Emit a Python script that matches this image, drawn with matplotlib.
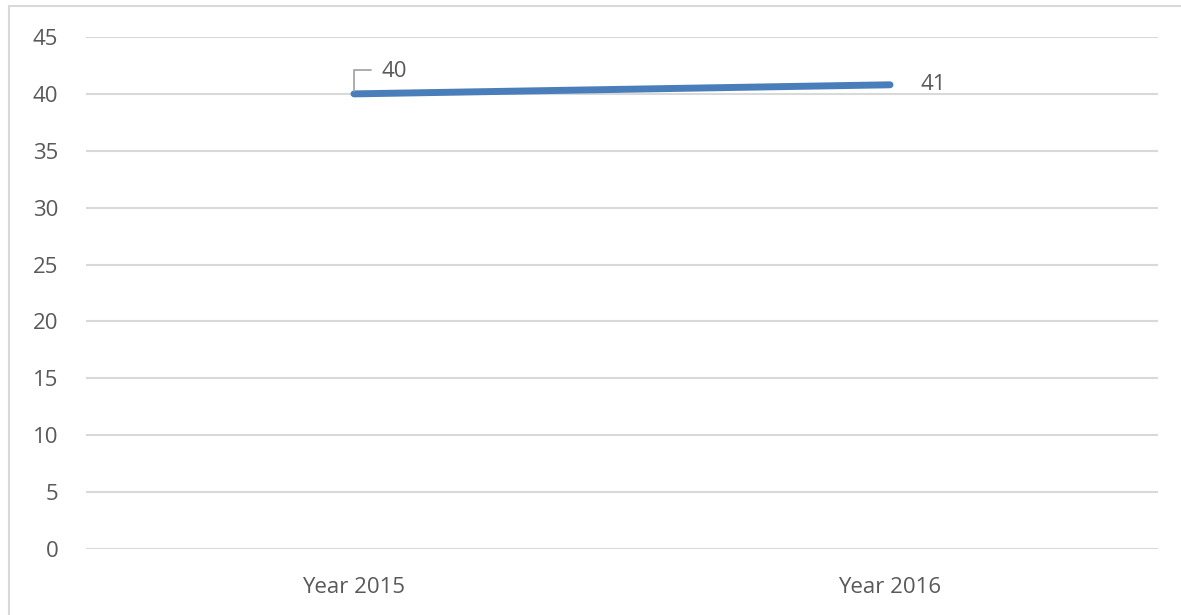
import matplotlib.pyplot as plt
from matplotlib.patches import Rectangle

# data
categories = ['Year 2015', 'Year 2016']
values = [40, 40.8]
yticks = [0, 5, 10, 15, 20, 25, 30, 35, 40, 45]

plt.rcParams['font.family'] = ['Open Sans', 'DejaVu Sans']
text_color = '#595959'
grid_color = '#D9D9D9'
line_color = '#4A7EBB'
fs = 16

fig = plt.figure(figsize=(11.81, 6.15), dpi=100)
ax = fig.add_axes([86 / 1181, 1 - 549 / 615, 1072 / 1181, 512 / 615])

# outer chart border (cropped at right/bottom in the reference)
fig.patches.append(Rectangle((8.5 / 1181, -0.01), 1.02, 1 - 5.5 / 615 + 0.01,
                             transform=fig.transFigure, fill=False,
                             edgecolor=grid_color, linewidth=1.5))

x = list(range(len(categories)))
ax.plot(x, values, color=line_color, linewidth=5, solid_capstyle='round', zorder=3)

ax.set_xlim(-0.5, len(categories) - 0.5)
ax.set_ylim(0, 45)
ax.set_yticks(yticks)
ax.set_xticks(x)
ax.set_xticklabels(categories)
ax.yaxis.grid(True, color=grid_color, linewidth=1.5)
ax.set_axisbelow(True)
for s in ax.spines.values():
    s.set_visible(False)
ax.tick_params(length=0, labelsize=fs, colors=text_color, pad=0)
ax.tick_params(axis='y', pad=20)
ax.tick_params(axis='x', pad=20)

# data labels
ax.annotate(f'{values[0]:.0f}', xy=(x[0], values[0]), xytext=(20, 16),
            textcoords='offset points', fontsize=fs, color=text_color,
            va='center', ha='left')
# leader line for first label
ax.annotate('', xy=(x[0], values[0]), xytext=(12, 17), textcoords='offset points',
            arrowprops=dict(arrowstyle='-', color='#A6A6A6', lw=1.3,
                            connectionstyle='angle,angleA=0,angleB=90,rad=0',
                            shrinkA=0, shrinkB=2))
ax.annotate(f'{values[1]:.0f}', xy=(x[1], values[1]), xytext=(22, 0),
            textcoords='offset points', fontsize=fs, color=text_color,
            va='center', ha='left')

fig.savefig('out.png', dpi=100, facecolor='white')
